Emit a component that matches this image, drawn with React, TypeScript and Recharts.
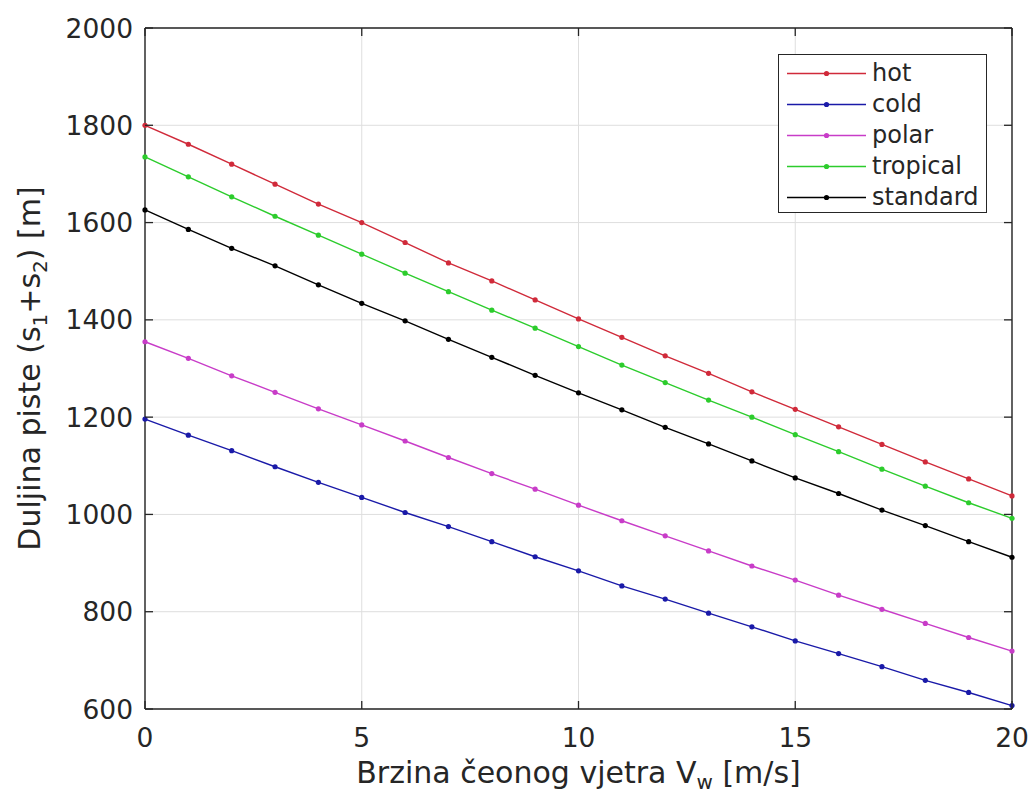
import { LineChart, Line, XAxis, YAxis, CartesianGrid, Legend } from "recharts";

const windSpeed = [0, 1, 2, 3, 4, 5, 6, 7, 8, 9, 10, 11, 12, 13, 14, 15, 16, 17, 18, 19, 20];

const hot = [1800, 1761, 1720, 1679, 1638, 1600, 1559, 1517, 1480, 1441, 1402, 1364, 1326, 1290, 1252, 1216, 1180, 1144, 1108, 1073, 1038];
const cold = [1196, 1163, 1131, 1098, 1066, 1035, 1004, 975, 944, 913, 884, 853, 826, 797, 769, 740, 714, 687, 659, 634, 607];
const polar = [1355, 1321, 1285, 1251, 1217, 1184, 1151, 1117, 1084, 1052, 1019, 987, 956, 925, 894, 865, 834, 805, 776, 747, 719];
const tropical = [1735, 1694, 1653, 1613, 1574, 1535, 1496, 1458, 1420, 1383, 1345, 1307, 1271, 1235, 1200, 1164, 1129, 1093, 1058, 1024, 992];
const standard = [1626, 1586, 1547, 1511, 1472, 1434, 1398, 1360, 1323, 1286, 1250, 1215, 1179, 1145, 1110, 1075, 1043, 1009, 977, 944, 912];

const xTicks = [0, 5, 10, 15, 20];
const yTicks = [600, 800, 1000, 1200, 1400, 1600, 1800, 2000];

const series = [
  { key: "hot", name: "hot", color: "#d02a3a", values: hot },
  { key: "cold", name: "cold", color: "#1a1aa8", values: cold },
  { key: "polar", name: "polar", color: "#c83cc8", values: polar },
  { key: "tropical", name: "tropical", color: "#2ccc2c", values: tropical },
  { key: "standard", name: "standard", color: "#000000", values: standard },
];

const data = windSpeed.map((v, i) => {
  const row: Record<string, number> = { v };
  series.forEach((s) => (row[s.key] = s.values[i]));
  return row;
});

const W = 1031;
const H = 796;
const PL = 145;
const PR = 1012;
const PT = 28;
const PB = 709;
const INK = "#262626";
const FONT = "DejaVu Sans";
const TICK = 8;

function YTick(props: any) {
  const { y, payload } = props;
  return (
    <g>
      <line x1={PL} x2={PL + TICK} y1={y} y2={y} stroke={INK} strokeWidth={1.3} />
      <line x1={PR - TICK} x2={PR} y1={y} y2={y} stroke={INK} strokeWidth={1.3} />
      <text x={PL - 12} y={y} dy="0.36em" textAnchor="end" fill={INK} fontSize={26.5} fontFamily={FONT}>
        {payload.value}
      </text>
    </g>
  );
}

function XTick(props: any) {
  const { x, payload } = props;
  return (
    <g>
      <line x1={x} x2={x} y1={PB} y2={PB - TICK} stroke={INK} strokeWidth={1.3} />
      <line x1={x} x2={x} y1={PT} y2={PT + TICK} stroke={INK} strokeWidth={1.3} />
      <text x={x} y={PB + 38} textAnchor="middle" fill={INK} fontSize={26.5} fontFamily={FONT}>
        {payload.value}
      </text>
    </g>
  );
}

function XTitle() {
  return (
    <text x={(PL + PR) / 2} y={783} textAnchor="middle" fill={INK} fontSize={30} fontFamily={FONT}>
      <tspan>Brzina čeonog vjetra V</tspan>
      <tspan dy={6} fontSize={20}>w</tspan>
      <tspan dy={-6}> [m/s]</tspan>
    </text>
  );
}

function YTitle() {
  const cx = 40;
  const cy = (PT + PB) / 2;
  return (
    <text
      x={cx}
      y={cy}
      transform={`rotate(-90 ${cx} ${cy})`}
      textAnchor="middle"
      fill={INK}
      fontSize={30}
      fontFamily={FONT}
    >
      <tspan>Duljina piste (s</tspan>
      <tspan dy={7} fontSize={20}>1</tspan>
      <tspan dy={-7}>+s</tspan>
      <tspan dy={7} fontSize={20}>2</tspan>
      <tspan dy={-7}>) [m]</tspan>
    </text>
  );
}

function LegendBox() {
  return (
    <div
      style={{
        width: 209,
        height: 159,
        boxSizing: "border-box",
        border: `1.3px solid ${INK}`,
        background: "#fff",
        paddingTop: 3,
        fontFamily: FONT,
        fontSize: 24,
        color: INK,
      }}
    >
      {series.map((s) => (
        <div key={s.key} style={{ height: 31, display: "flex", alignItems: "center" }}>
          <svg width={93} height={31} style={{ flex: "none" }}>
            <line x1={8} x2={87} y1={15.5} y2={15.5} stroke={s.color} strokeWidth={1.4} />
            <circle cx={47.5} cy={15.5} r={2.6} fill={s.color} />
          </svg>
          <span style={{ lineHeight: "31px" }}>{s.name}</span>
        </div>
      ))}
    </div>
  );
}

export default function App() {
  return (
    <div style={{ position: "absolute", left: 0, top: 0, width: W, height: H, background: "#fff" }}>
      <LineChart
        width={W}
        height={H}
        data={data}
        margin={{ top: PT - 1, right: W - PR - 1, left: PL - 60, bottom: H - PB - 40 }}
      >
        <CartesianGrid stroke="#dedede" strokeWidth={1} horizontal vertical />
        <XAxis
          dataKey="v"
          type="number"
          domain={[0, 20]}
          ticks={xTicks}
          height={40}
          tickLine={false}
          axisLine={{ stroke: INK, strokeWidth: 1.4 }}
          tick={<XTick />}
          interval={0}
          label={<XTitle />}
        />
        <XAxis
          xAxisId="top"
          dataKey="v"
          type="number"
          orientation="top"
          domain={[0, 20]}
          height={1}
          tick={false}
          tickLine={false}
          axisLine={{ stroke: INK, strokeWidth: 1.4 }}
        />
        <YAxis
          type="number"
          domain={[600, 2000]}
          ticks={yTicks}
          width={60}
          tickLine={false}
          axisLine={{ stroke: INK, strokeWidth: 1.4 }}
          tick={<YTick />}
          interval={0}
          label={<YTitle />}
        />
        <YAxis
          yAxisId="right"
          type="number"
          orientation="right"
          domain={[600, 2000]}
          width={1}
          tick={false}
          tickLine={false}
          axisLine={{ stroke: INK, strokeWidth: 1.4 }}
        />
        <Legend
          layout="vertical"
          align="center"
          verticalAlign="middle"
          content={<LegendBox />}
          wrapperStyle={{ position: "absolute", left: 778, top: 54, width: 209, height: 159 }}
        />
        {series.map((s) => (
          <Line
            key={s.key}
            type="linear"
            dataKey={s.key}
            name={s.name}
            stroke={s.color}
            strokeWidth={1.4}
            dot={{ r: 2.6, fill: s.color, stroke: "none" }}
            activeDot={false}
            isAnimationActive={false}
          />
        ))}
      </LineChart>
    </div>
  );
}
